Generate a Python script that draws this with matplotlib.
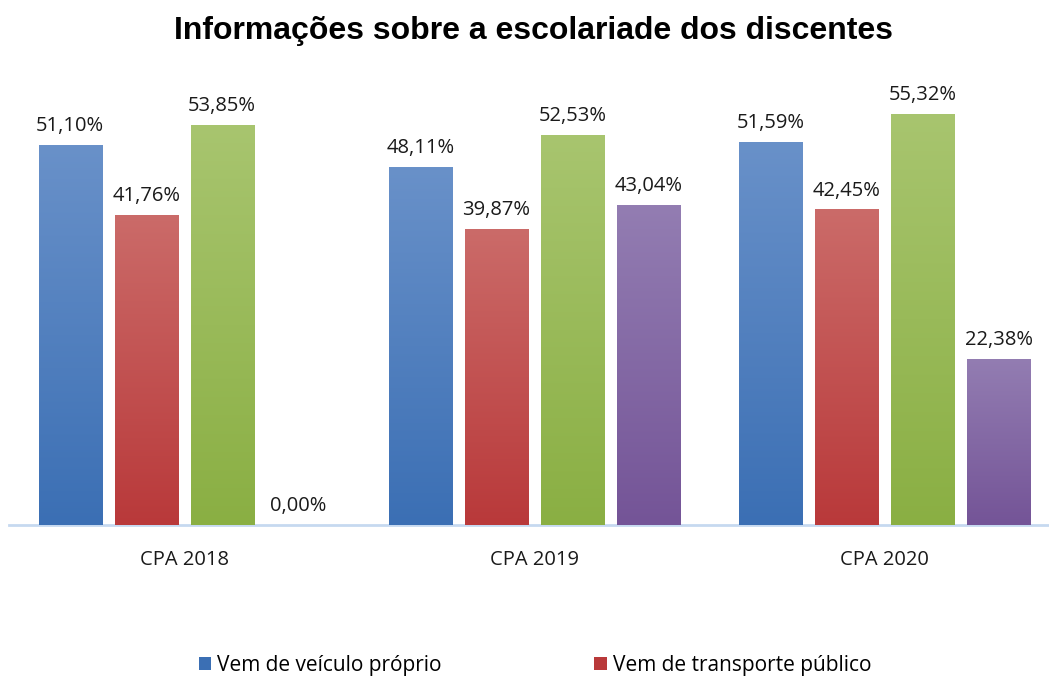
import matplotlib
matplotlib.use("Agg")
import matplotlib.pyplot as plt
import numpy as np
from matplotlib.colors import LinearSegmentedColormap
from matplotlib.patches import Patch

categories = ["CPA 2018", "CPA 2019", "CPA 2020"]
series_names = ["Vem de veículo próprio", "Vem de transporte público", "Série 3", "Série 4"]
veiculo = [51.10, 48.11, 51.59]
transporte = [41.76, 39.87, 42.45]
serie3 = [53.85, 52.53, 55.32]
serie4 = [0.00, 43.04, 22.38]
series = [veiculo, transporte, serie3, serie4]
labels = [["51,10%", "48,11%", "51,59%"],
          ["41,76%", "39,87%", "42,45%"],
          ["53,85%", "52,53%", "55,32%"],
          ["0,00%", "43,04%", "22,38%"]]

top_colors = ["#6991c9", "#cb6b69", "#a8c56f", "#937db2"]
bot_colors = ["#3b6fb4", "#b9393a", "#8aaf43", "#745497"]

fig = plt.figure(figsize=(10.49, 6.8), dpi=100)
ax = fig.add_axes([9/1049, 155/680, 1040/1049, 446/680])

bw = 0.18
step = 0.217
x = np.arange(len(categories))
font = "Open Sans"
fs = 14.5

for i, (vals, lab) in enumerate(zip(series, labels)):
    offs = (i - 1.5) * step
    cmap = LinearSegmentedColormap.from_list(f"g{i}", [bot_colors[i], top_colors[i]])
    for j, v in enumerate(vals):
        xc = x[j] + offs
        if v > 0:
            bar = ax.bar(xc, v, bw, color=bot_colors[i], zorder=2)[0]
            grad = np.linspace(0, 1, 256).reshape(-1, 1)
            im = ax.imshow(grad, cmap=cmap, origin="lower", aspect="auto",
                           extent=[xc - bw/2, xc + bw/2, 0, v], zorder=3)
            im.set_clip_path(bar)
        ax.text(xc, v + 1.2, lab[j], ha="center", va="bottom",
                fontsize=fs, family=font, color="#1a1a1a")

ax.set_xlim(-0.5, 2.5 - 11/350)
ax.set_ylim(0, 60)
ax.set_xticks(x)
ax.set_xticklabels(categories, family=font, fontsize=fs, color="#1a1a1a")
ax.tick_params(axis="x", length=0, pad=18)
ax.set_yticks([])
for s in ["top", "right", "left"]:
    ax.spines[s].set_visible(False)
ax.spines["bottom"].set_color("#c6d9f0")
ax.spines["bottom"].set_linewidth(2)

fig.text(534/1049, 1 - 31/680, "Informações sobre a escolariade dos discentes",
         ha="center", va="center", fontsize=23, fontweight="bold", family="Liberation Sans")

handles = [Patch(facecolor=bot_colors[0]), Patch(facecolor=bot_colors[1])]
fig.legend(handles, series_names[:2], loc="center", bbox_to_anchor=(535/1049, 1 - 665/680),
           ncol=2, frameon=False, prop={"family": font, "size": 15},
           handlelength=0.6, handleheight=0.6, handletextpad=0.3, columnspacing=7.3)

fig.savefig("out.png", dpi=100)
